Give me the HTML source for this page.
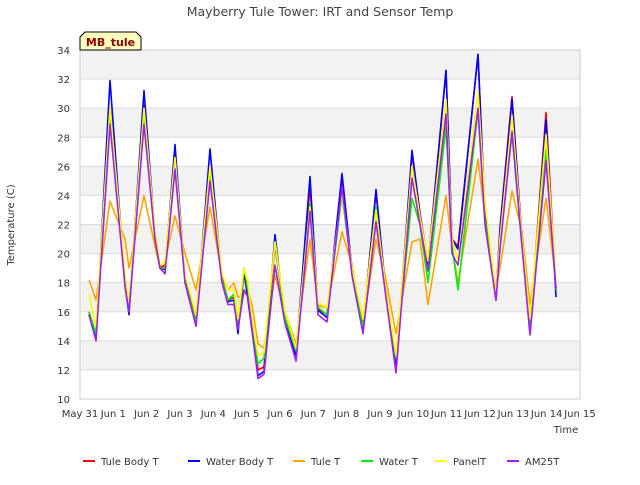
<!DOCTYPE html>
<html><head><meta charset="utf-8"><style>
body{margin:0;background:#fff;font-family:"Liberation Sans",sans-serif}
svg text{font-family:"DejaVu Sans","Liberation Sans",sans-serif}
</style></head><body>
<svg id="c" width="640" height="480" xmlns="http://www.w3.org/2000/svg">
<text x="320" y="16" text-anchor="middle" font-size="12.5" fill="#444">Mayberry Tule Tower: IRT and Sensor Temp</text>
<text x="14" y="225" transform="rotate(-90 14 225)" text-anchor="middle" font-size="10" fill="#333">Temperature (C)</text>
<text x="566" y="433" text-anchor="middle" font-size="10" fill="#333">Time</text>
<g id="grid"></g><g id="series"></g><g id="axes"></g>
<g>
<path d="M80,50 L80,37 L85,32 L136,32 L141,37 L141,50 Z" fill="#ffffc0" stroke="#000" stroke-width="1"/>
<text x="110.5" y="46" text-anchor="middle" font-size="11" font-weight="bold" fill="#8b0000">MB_tule</text>
</g>
<g id="legend"></g>
</svg>
<script>
const times=[0.27,0.48,0.9,1.35,1.47,1.92,2.25,2.4,2.55,2.85,3.15,3.48,3.9,4.26,4.44,4.62,4.74,4.92,5.04,5.16,5.34,5.52,5.85,6.15,6.48,6.9,7.14,7.41,7.86,8.16,8.49,8.88,9.15,9.48,9.96,10.2,10.44,10.98,11.16,11.34,11.94,12.15,12.48,12.6,12.96,13.26,13.5,13.98,14.28];
const orangeVals=[18.2,16.8,23.6,21,19,24,20.5,19,19.5,22.6,20,17.5,23.2,18.5,17.5,18,17,17.2,17.5,16.5,13.8,13.5,18.5,16,13.8,21,16.4,16.3,21.5,19.2,15,21,18.5,14.5,20.8,21,16.5,24,20.5,18,26.5,22.5,17.5,19,24.3,21.5,16.5,23.8,18];
const redVals=[16,14.3,30,18,16,30.2,21,19,19.2,26.8,18.3,15.3,26,18.3,16.8,17,15,18.6,17,15,12,12.2,20.6,15.5,13.2,24.6,16.2,15.8,25,19,15,24.2,18,12.5,26.8,22.8,19.3,32.6,21,20.5,33.7,22.8,17,21.8,30.8,21,14.8,29.7,17.5];
const blueVals=[15.8,14.1,31.9,17.8,15.8,31.2,21.3,19,18.9,27.5,18.2,15.1,27.2,18.2,16.7,16.8,14.5,18.9,16.8,14.7,11.6,11.9,21.3,15.4,13,25.3,16.1,15.6,25.5,18.9,14.7,24.4,17.8,12,27.1,22.7,19.2,32.6,21,20.3,33.7,22.6,16.8,21.6,30.6,20.9,14.5,29.2,17];
const greenVals=[16,14.5,29.6,17.8,16,29.4,21,19,19,26.5,18,15.3,25.8,18.2,16.8,17.2,15,19,17.5,15.2,12.4,12.8,20.8,15.6,13.3,23.4,16.3,15.8,24,18.8,15,23.2,17.8,12.8,23.8,22,18,28.7,20.5,17.5,29.9,22.3,17,21,28.2,20.5,15,27.2,17.5];
const yellowVals=[17.2,15,30,18.5,16.5,30,21.5,19.2,19.4,26.6,18.5,15.8,26,18.6,17.5,17.5,15.5,19,18,15.5,13,13.2,20.8,16,13.5,23.2,16.6,16.3,24.2,19,15.5,23,18,13,26,22.5,19.5,30.6,21,19.5,31.2,23.5,17.2,21,29.5,21,15.5,28.2,18];
const purpleVals=[15.8,14,28.9,17.8,16,28.9,21,19,18.6,25.8,18,15,25,18,16.5,16.5,14.8,17.5,17,14.8,11.4,11.7,19.2,15.2,12.6,22.9,15.8,15.3,24.6,18.5,14.5,22.2,17.5,11.8,25.2,22,18.8,29.6,20,19.2,30,22,16.8,20.3,28.4,20.5,14.4,26.4,17.6];
const yTicks=[10,12,14,16,18,20,22,24,26,28,30,32,34];
const xTickLabels=["May 31","Jun 1","Jun 2","Jun 3","Jun 4","Jun 5","Jun 6","Jun 7","Jun 8","Jun 9","Jun 10","Jun 11","Jun 12","Jun 13","Jun 14","Jun 15"];
const seriesNames=["Tule Body T","Water Body T","Tule T","Water T","PanelT","AM25T"];
const X0=80,X1=580,Y0=399,Y1=50;
const xs=d=>X0+d*(X1-X0)/15, ys=v=>Y0-(v-10)*(Y0-Y1)/24;
const NS="http://www.w3.org/2000/svg";
function mk(t,a,p){const e=document.createElementNS(NS,t);for(const k in a)e.setAttribute(k,a[k]);p.appendChild(e);return e;}
const grid=document.getElementById('grid'),axes=document.getElementById('axes'),ser=document.getElementById('series'),leg=document.getElementById('legend');
for(let i=0;i<yTicks.length-1;i++){
 if(i%2===1){const r=mk('rect',{x:X0,y:ys(yTicks[i+1]),width:X1-X0,height:ys(yTicks[i])-ys(yTicks[i+1]),fill:'#f2f2f2'},grid);
 
 }
}
yTicks.forEach(v=>{
 const l=mk('line',{x1:X0,x2:X1,y1:ys(v),y2:ys(v),stroke:'#dcdcdc','stroke-width':1},grid);
 
 
 const t=mk('text',{x:X0-10,y:ys(v)+4,'text-anchor':'end','font-size':10,fill:'#333'},axes);t.textContent=v;
 
 
});
mk('rect',{x:X0,y:Y1,width:X1-X0,height:Y0-Y1,fill:'none',stroke:'#ccc'},axes);
xTickLabels.forEach((s,i)=>{
 const t=mk('text',{x:xs(i),y:Y0+18,'text-anchor':'middle','font-size':10,fill:'#333'},axes);t.textContent=s;
 
 
});
const data=[redVals,blueVals,orangeVals,greenVals,yellowVals,purpleVals];
const cols=['#ff0000','#0000ff','#ffa500','#00ee00','#ffff00','#a020f0'];
const order=[2,0,1,3,4,5];
order.forEach(k=>{
 const d=data[k].map((v,i)=>(i?'L':'M')+xs(times[i]).toFixed(1)+','+ys(v).toFixed(1)).join(' ');
 const p=mk('path',{d:d,fill:'none',stroke:cols[k],'stroke-width':1.6,'stroke-linejoin':'round'},ser);
 
 
});
const lx=[83,188,293,361,435,507];
seriesNames.forEach((s,i)=>{
 const g=mk('g',{},leg);
 
 
 mk('line',{x1:lx[i],x2:lx[i]+12,y1:461,y2:461,stroke:cols[i],'stroke-width':2},g);
 const t=mk('text',{x:lx[i]+18,y:465,'font-size':10,fill:'#333'},g);t.textContent=s;
});
</script>
</body></html>
